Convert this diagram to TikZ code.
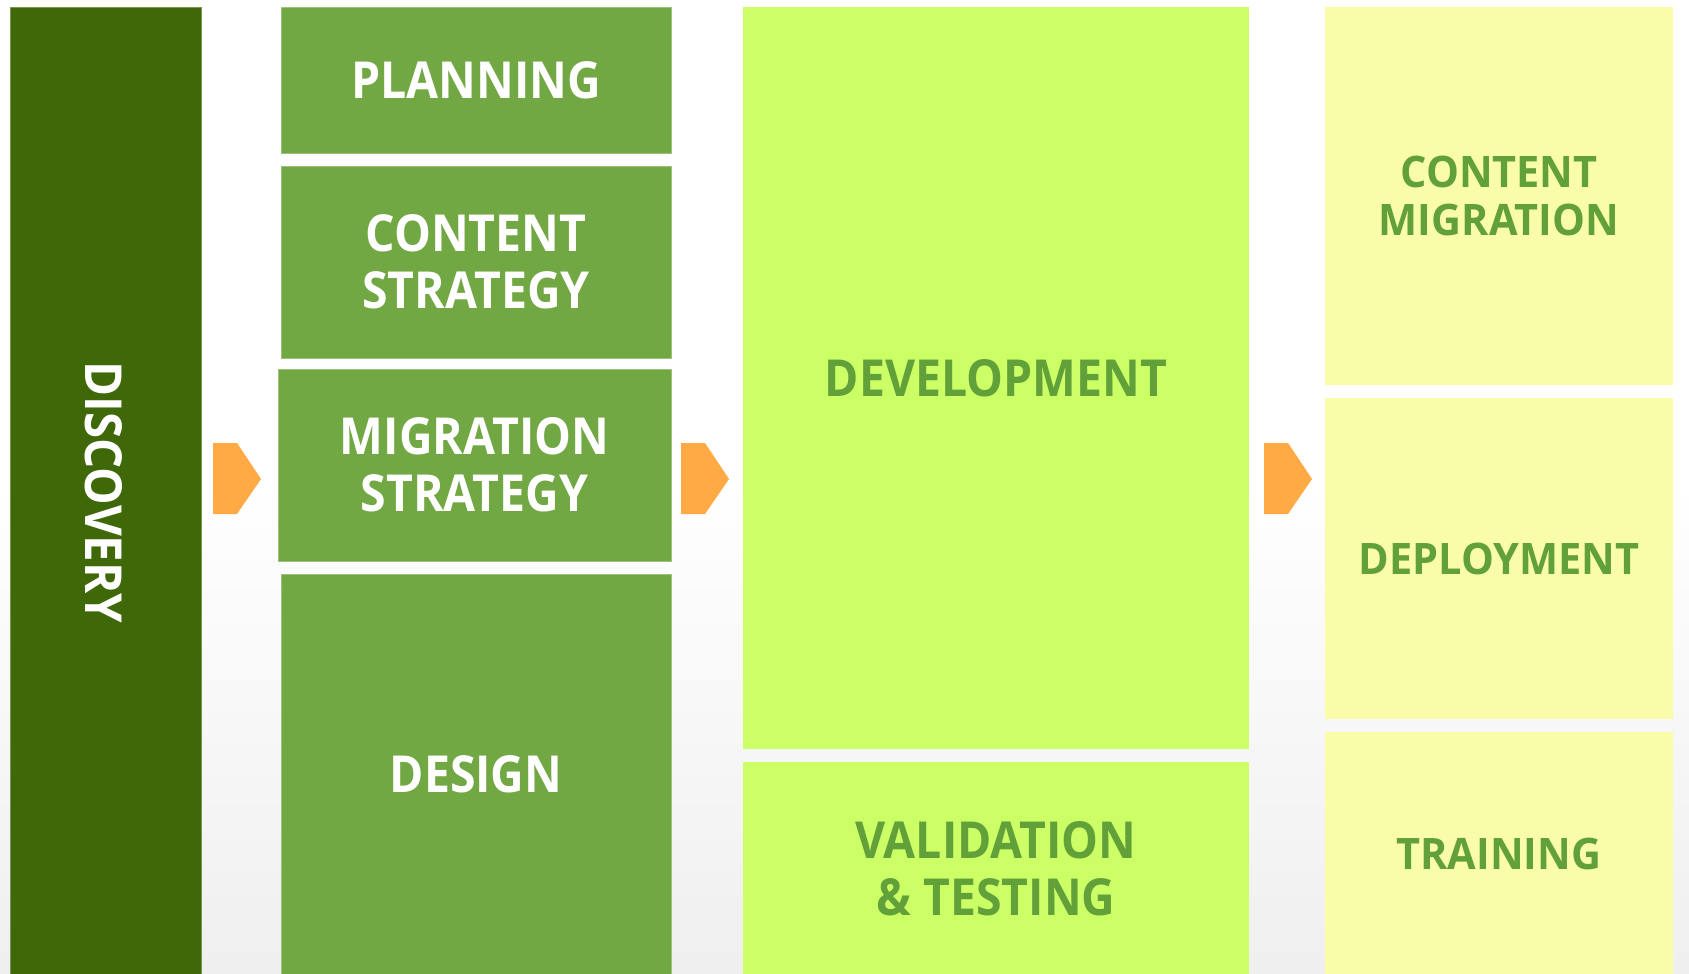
\documentclass[tikz,border=0pt]{standalone}
\usepackage{fontspec}
\setmainfont{Open Sans}
\newfontfamily\narrowmain{Open Sans}[FakeStretch=0.91]
\newfontfamily\narrowdisc{Open Sans}[FakeStretch=0.93]
\newfontfamily\narrowpale{Open Sans}[FakeStretch=0.955]
\definecolor{discov}{HTML}{3F6809}
\definecolor{midgreen}{HTML}{72A843}
\definecolor{lime}{HTML}{CCFF66}
\definecolor{paleyellow}{HTML}{F9FDA9}
\definecolor{txtgreen}{HTML}{62A03A}
\definecolor{chev}{HTML}{FFAA44}
\definecolor{bgbottom}{HTML}{EFEFEF}
\newcommand\placebox[7]{%
  \node[#6, minimum width={(#4-#2)/2}, minimum height={(#5-#3)/2}] (#1) at ({(#2+#4)/2},{(#3+#5)/2}) {#7};}
\tikzset{
  phase/.style={rectangle, inner sep=0pt, outer sep=0pt, align=center, font=\narrowmain\bfseries\fontsize{25.5}{28.5}\selectfont},
  darkbox/.style={phase, fill=discov, draw=discov!70!white, line width=0.4pt, text=white},
  greenbox/.style={phase, fill=midgreen, draw=midgreen!70!white, line width=0.4pt, text=white},
  limebox/.style={phase, fill=lime, text=txtgreen},
  yellowbox/.style={phase, fill=paleyellow, text=txtgreen, font=\narrowpale\bfseries\fontsize{21.7}{24}\selectfont},
  chevron/.style={fill=chev}
}
\begin{document}
\begin{tikzpicture}[x=0.5pt,y=-0.5pt]
\useasboundingbox (0,0) rectangle (1689,973);
\fill[white] (0,0) rectangle (1689,480);
\shade[top color=white, bottom color=bgbottom] (0,480) rectangle (1689,973);
% column 1
\placebox{discovery}{10}{7}{201}{975}{darkbox}{}
\node[text=white, font=\narrowdisc\bfseries\fontsize{25.5}{28.5}\selectfont, rotate=-90] (discoverytext) at (103.5,492.5) {DISCOVERY};
% column 2
\placebox{planning}{281}{7}{671}{153}{greenbox}{PLANNING}
\placebox{contentstrategy}{281}{166}{671}{358}{greenbox}{CONTENT\\STRATEGY}
\placebox{migrationstrategy}{278}{369}{671}{561}{greenbox}{MIGRATION\\STRATEGY}
\placebox{design}{281}{574}{671}{975}{greenbox}{DESIGN}
% column 3
\placebox{development}{743}{7}{1249}{749}{limebox}{DEVELOPMENT}
\placebox{validation}{743}{762}{1249}{975}{limebox}{VALIDATION\\\& TESTING}
% column 4
\placebox{contentmigration}{1325}{7}{1673}{385}{yellowbox}{CONTENT\\MIGRATION}
\placebox{deployment}{1325}{398}{1673}{719}{yellowbox}{DEPLOYMENT}
\placebox{training}{1325}{732}{1673}{975}{yellowbox}{TRAINING}
% chevrons
\fill[chevron] (213,443) -- (237,443) -- (261,479) -- (237,514) -- (213,514) -- cycle;
\fill[chevron] (681,443) -- (705,443) -- (729,479) -- (705,514) -- (681,514) -- cycle;
\fill[chevron] (1264,443) -- (1288,443) -- (1312,479) -- (1288,514) -- (1264,514) -- cycle;
\end{tikzpicture}
\end{document}
